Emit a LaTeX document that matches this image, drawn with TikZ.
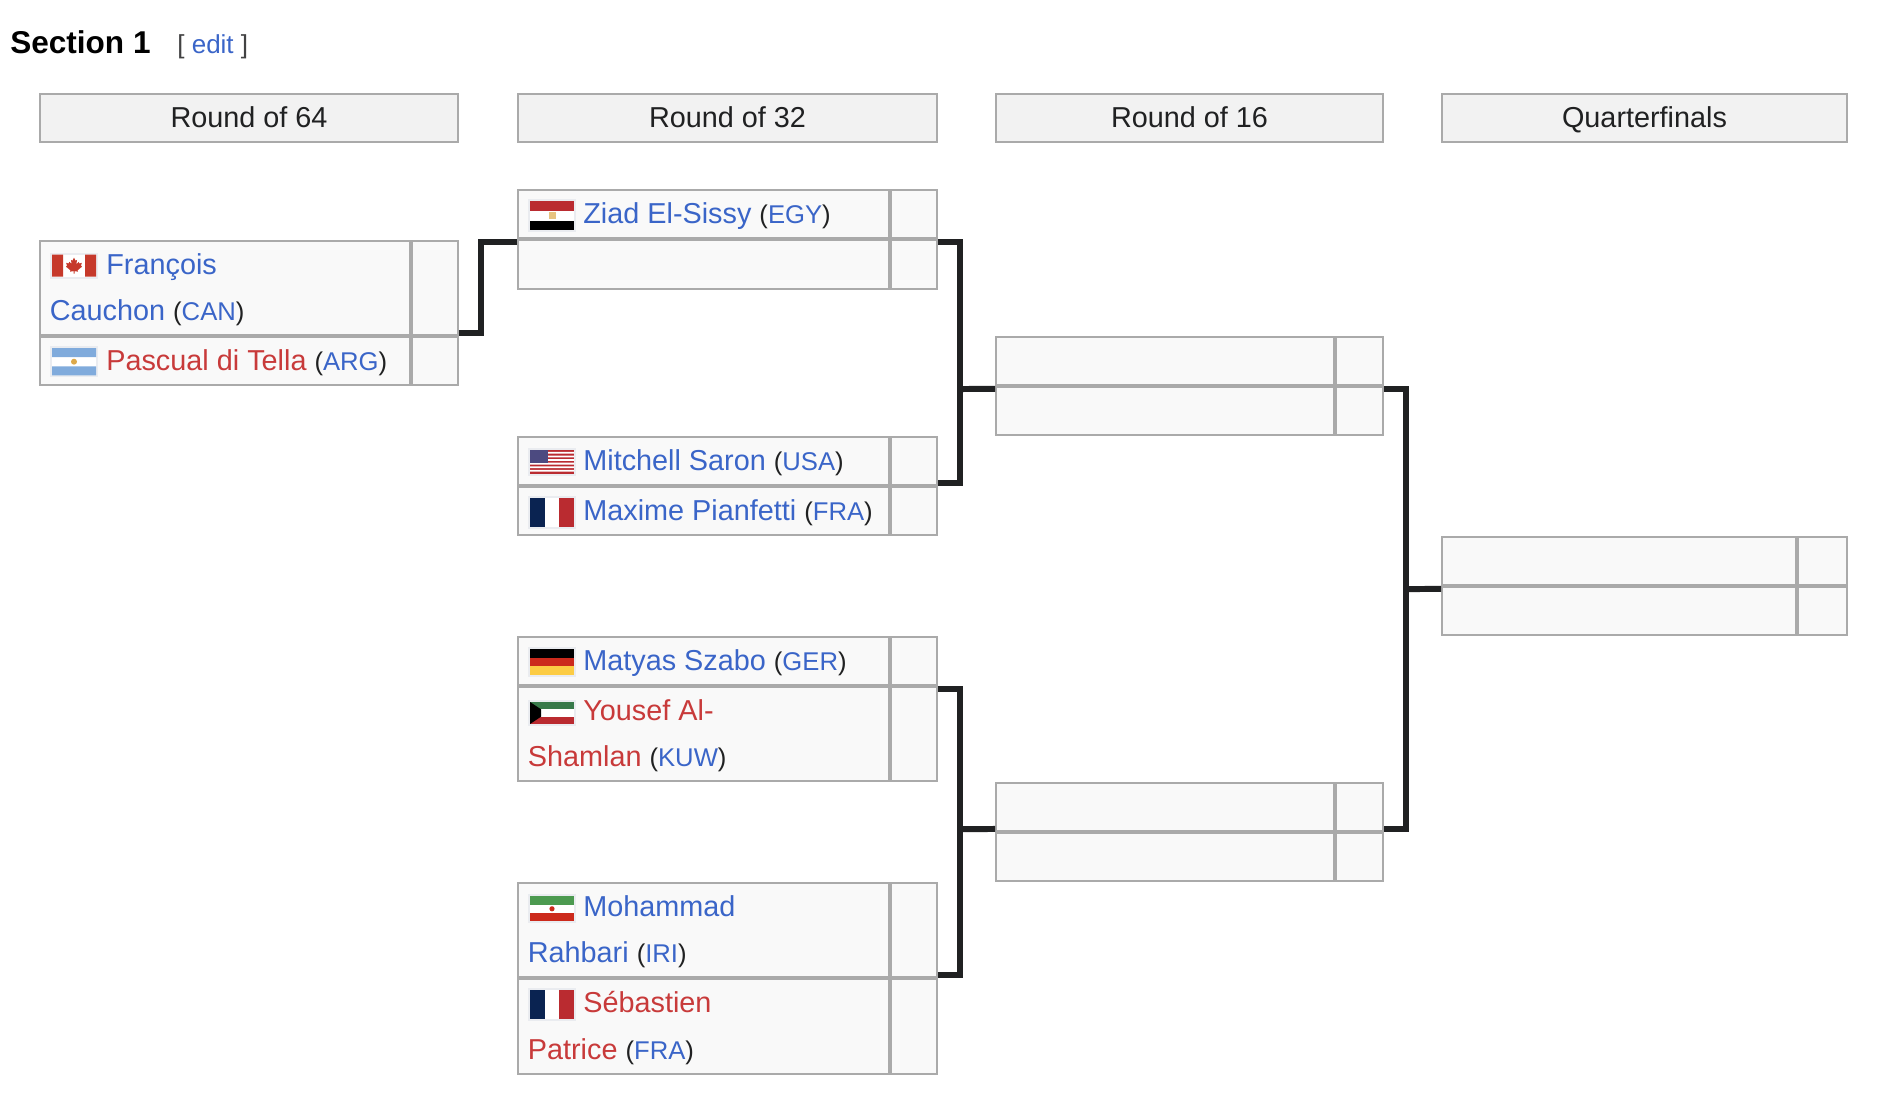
\documentclass[tikz,border=0pt]{standalone}
\usepackage{xcolor}
\usepackage{fontspec}
\setmainfont{Liberation Sans}
\usepackage{tikz}
\usetikzlibrary{positioning}

\definecolor{ink}{HTML}{202122}
\definecolor{lnk}{HTML}{3A65C8}
\definecolor{redlnk}{HTML}{C83A3A}
\definecolor{rule}{HTML}{AAAAAA}
\definecolor{cellbg}{HTML}{F9F9F9}
\definecolor{headbg}{HTML}{F2F2F2}
\definecolor{frame}{HTML}{EAECF0}
\definecolor{flagred}{HTML}{BA2B30}
\definecolor{flagnavy}{HTML}{0A2351}
\definecolor{HTMLcan}{HTML}{C6392B}
\definecolor{HTMLarg}{HTML}{80ABDC}
\definecolor{HTMLsun}{HTML}{DDA94A}
\definecolor{HTMLcanton}{HTML}{4C4A80}
\definecolor{HTMLger}{HTML}{CC2A1C}
\definecolor{HTMLgold}{HTML}{FCCC44}
\definecolor{HTMLkgreen}{HTML}{37794A}
\definecolor{HTMLigreen}{HTML}{4C9A50}

\newcommand{\blue}[1]{\textcolor{lnk}{#1}}
\newcommand{\redl}[1]{\textcolor{redlnk}{#1}}
\newcommand{\ioc}[1]{{\fontsize{14.6}{18}\selectfont(\blue{#1})}}

% flags, drawn around the centre of their frame node
\newcommand{\flagCAN}[1]{\begin{scope}[shift={(#1.center)}]
  \fill[white] (-22,-11) rectangle (22,11);
  \fill[HTMLcan] (-22,-11) rectangle (-11,11) (11,-11) rectangle (22,11);
  \fill[HTMLcan] (0,-8) -- (1.6,-5) -- (3,-5.8) -- (2.4,-1.6) -- (4.6,-3.8) -- (5.4,-2.2) -- (7.8,-2.8)
    -- (7,0) -- (8,1) -- (3.6,4.6) -- (4,6) -- (.5,5.4) -- (.5,8) -- (-.5,8) -- (-.5,5.4) -- (-4,6)
    -- (-3.6,4.6) -- (-8,1) -- (-7,0) -- (-7.8,-2.8) -- (-5.4,-2.2) -- (-4.6,-3.8) -- (-2.4,-1.6)
    -- (-3,-5.8) -- (-1.6,-5) -- cycle;
\end{scope}}
\newcommand{\flagARG}[1]{\begin{scope}[shift={(#1.center)}]
  \fill[white] (-22,-13.7) rectangle (22,13.7);
  \fill[HTMLarg] (-22,-13.7) rectangle (22,-4.6) (-22,4.6) rectangle (22,13.7);
  \fill[HTMLsun] (0,0) circle[radius=3];
\end{scope}}
\newcommand{\flagEGY}[1]{\begin{scope}[shift={(#1.center)}]
  \fill[flagred] (-22,-14.5) rectangle (22,-4.8);
  \fill[white] (-22,-4.8) rectangle (22,4.8);
  \fill[black] (-22,4.8) rectangle (22,14.5);
  \fill[HTMLsun!70] (-3.5,-3.5) rectangle (3.5,3.5);
\end{scope}}
\newcommand{\flagUSA}[1]{\begin{scope}[shift={(#1.center)}]
  \fill[flagred] (-22,-11.7) rectangle (22,11.7);
  \fill[white] (-22,-9.9) rectangle (22,-8.1) (-22,-6.3) rectangle (22,-4.5)
    (-22,-2.7) rectangle (22,-.9) (-22,.9) rectangle (22,2.7)
    (-22,4.5) rectangle (22,6.3) (-22,8.1) rectangle (22,9.9);
  \fill[HTMLcanton] (-22,-11.7) rectangle (-4.4,.9);
\end{scope}}
\newcommand{\flagFRA}[1]{\begin{scope}[shift={(#1.center)}]
  \fill[flagnavy] (-22,-14.5) rectangle (-7.3,14.5);
  \fill[white] (-7.3,-14.5) rectangle (7.3,14.5);
  \fill[flagred] (7.3,-14.5) rectangle (22,14.5);
\end{scope}}
\newcommand{\flagGER}[1]{\begin{scope}[shift={(#1.center)}]
  \fill[black] (-22,-12.7) rectangle (22,-4.2);
  \fill[HTMLger] (-22,-4.2) rectangle (22,4.2);
  \fill[HTMLgold] (-22,4.2) rectangle (22,12.7);
\end{scope}}
\newcommand{\flagKUW}[1]{\begin{scope}[shift={(#1.center)}]
  \fill[HTMLkgreen] (-22,-11) rectangle (22,-3.7);
  \fill[white] (-22,-3.7) rectangle (22,3.7);
  \fill[flagred] (-22,3.7) rectangle (22,11);
  \fill[black] (-22,-11) -- (-11,-3.7) -- (-11,3.7) -- (-22,11) -- cycle;
\end{scope}}
\newcommand{\flagIRI}[1]{\begin{scope}[shift={(#1.center)}]
  \fill[HTMLigreen] (-22,-12.5) rectangle (22,-4.2);
  \fill[white] (-22,-4.2) rectangle (22,4.2);
  \fill[HTMLger] (-22,4.2) rectangle (22,12.5);
  \fill[HTMLger] (0,0) circle[radius=2.6];
\end{scope}}

\begin{document}
\begin{tikzpicture}[x=0.02cm, y=-0.02cm,
  cell/.style={draw=rule, line width=0.04cm, fill=cellbg, inner sep=0pt, outer sep=0pt},
  head/.style={draw=rule, line width=0.04cm, fill=headbg, inner sep=0pt, outer sep=0pt, text=ink,
               minimum height=0.96cm, text height=10.5pt, text depth=0pt,
               font=\fontsize{16.4}{20}\selectfont},
  w64/.style={cell, minimum width=7.4cm},
  w32/.style={cell, minimum width=7.42cm},
  w16/.style={cell, minimum width=6.76cm},
  wqf/.style={cell, minimum width=7.08cm},
  scr/.style={cell, minimum width=0.92cm},
  short/.style={minimum height=0.96cm},
  tall/.style={minimum height=1.88cm},
  fl/.style={draw=frame, line width=0.04cm, fill=cellbg, inner sep=0pt, minimum width=0.92cm},
  pl/.style={anchor=base west, inner sep=0pt, text=ink, font=\fontsize{16.4}{20}\selectfont},
  conn/.style={draw=ink, line width=0.12cm},
]
\useasboundingbox (0,0) rectangle (1896,1108);

% Title
\node[anchor=base west, inner sep=0pt, font=\bfseries\fontsize{17.95}{20}\selectfont] at (10,53.5) (title) {Section 1};
\node[anchor=base west, inner sep=0pt, text=ink!85, font=\fontsize{14.8}{18}\selectfont] at (177,53.5) (edit) {[ \blue{edit} ]};

% Column heads
\node[head, minimum width=8.36cm] at (249,118)    (h64) {Round of 64};
\node[head, minimum width=8.38cm] at (727.5,118)  (h32) {Round of 32};
\node[head, minimum width=7.74cm] at (1189.5,118) (h16) {Round of 16};
\node[head, minimum width=8.10cm] at (1644.5,118) (hqf) {Quarterfinals};

% Round of 64
\node[w64, tall, anchor=north west] at (40,241) (ncan) {};
\node[scr, tall, right=0.04cm of ncan] (scan) {};
\node[w64, short, below=0.04cm of ncan] (narg) {};
\node[scr, short, right=0.04cm of narg] (sarg) {};

% Round of 32
\node[w32, short, anchor=north west] at (518,190) (negy) {};
\node[scr, short, right=0.04cm of negy] (segy) {};
\node[w32, short, minimum height=0.98cm, below=0.04cm of negy] (nbye) {};
\node[scr, short, minimum height=0.98cm, right=0.04cm of nbye] (sbye) {};
\node[w32, short, anchor=north west] at (518,437) (nusa) {};
\node[scr, short, right=0.04cm of nusa] (susa) {};
\node[w32, short, below=0.04cm of nusa] (nfra) {};
\node[scr, short, right=0.04cm of nfra] (sfra) {};
\node[w32, short, anchor=north west] at (518,637) (nger) {};
\node[scr, short, right=0.04cm of nger] (sger) {};
\node[w32, tall, below=0.04cm of nger] (nkuw) {};
\node[scr, tall, right=0.04cm of nkuw] (skuw) {};
\node[w32, tall, anchor=north west] at (518,883) (niri) {};
\node[scr, tall, right=0.04cm of niri] (siri) {};
\node[w32, tall, minimum height=1.9cm, below=0.04cm of niri] (nfrb) {};
\node[scr, tall, minimum height=1.9cm, right=0.04cm of nfrb] (sfrb) {};

% Round of 16
\node[w16, short, anchor=north west] at (996,337) (nra) {};
\node[scr, short, minimum width=0.94cm, right=0.04cm of nra] (sra) {};
\node[w16, short, below=0.04cm of nra] (nrb) {};
\node[scr, short, minimum width=0.94cm, right=0.04cm of nrb] (srb) {};
\node[w16, short, anchor=north west] at (996,783) (nrc) {};
\node[scr, short, minimum width=0.94cm, right=0.04cm of nrc] (src) {};
\node[w16, short, below=0.04cm of nrc] (nrd) {};
\node[scr, short, minimum width=0.94cm, right=0.04cm of nrd] (srd) {};

% Quarterfinals
\node[wqf, short, anchor=north west] at (1442,537) (nqa) {};
\node[scr, short, minimum width=0.98cm, right=0.04cm of nqa] (sqa) {};
\node[wqf, short, below=0.04cm of nqa] (nqb) {};
\node[scr, short, minimum width=0.98cm, right=0.04cm of nqb] (sqb) {};

% Flags
\node[fl, minimum height=0.48cm] at (74,265.7)  (fcan) {}; \flagCAN{fcan}
\node[fl, minimum height=0.59cm] at (74,361.7)  (farg) {}; \flagARG{farg}
\node[fl, minimum height=0.62cm] at (552,215.8) (fegy) {}; \flagEGY{fegy}
\node[fl, minimum height=0.51cm] at (552,461.8) (fusa) {}; \flagUSA{fusa}
\node[fl, minimum height=0.62cm] at (552,512)   (ffra) {}; \flagFRA{ffra}
\node[fl, minimum height=0.55cm] at (552,661.8) (fger) {}; \flagGER{fger}
\node[fl, minimum height=0.48cm] at (552,713)   (fkuw) {}; \flagKUW{fkuw}
\node[fl, minimum height=0.54cm] at (552,908.8) (firi) {}; \flagIRI{firi}
\node[fl, minimum height=0.62cm] at (552,1004.8)(ffrb) {}; \flagFRA{ffrb}

% Players
\node[pl] at (106,275)    (tcan)  {\blue{François}};
\node[pl] at (49.5,320.7) (tcanb) {\blue{Cauchon} \ioc{CAN}};
\node[pl] at (106,370)    (targ)  {\redl{Pascual di Tella} \ioc{ARG}};
\node[pl] at (583,224)    (tegy)  {\blue{Ziad El-Sissy} \ioc{EGY}};
\node[pl] at (583,470)    (tusa)  {\blue{Mitchell Saron} \ioc{USA}};
\node[pl] at (583,520)    (tfra)  {\blue{Maxime Pianfetti} \ioc{FRA}};
\node[pl] at (583,670)    (tger)  {\blue{Matyas Szabo} \ioc{GER}};
\node[pl] at (583,720)    (tkuw)  {\redl{Yousef Al-}};
\node[pl] at (527.5,766.3)(tkuwb) {\redl{Shamlan} \ioc{KUW}};
\node[pl] at (583,916)    (tiri)  {\blue{Mohammad}};
\node[pl] at (527.5,962.3)(tirib) {\blue{Rahbari} \ioc{IRI}};
\node[pl] at (583,1012.3) (tfrb)  {\redl{Sébastien}};
\node[pl] at (527.5,1059) (tfrbb) {\redl{Patrice} \ioc{FRA}};

% Connectors
\coordinate (j64) at (481,288);
\coordinate (j1) at (960,389);
\coordinate (j2) at (960,829);
\coordinate (j3) at (1406,589);
\draw[conn] ([shift={(1,-2)}]scan.south east) -| (j64) |- ([shift={(-1,2)}]nbye.north west);
\draw[conn] ([shift={(1,2)}]sbye.north east) -| (j1) |- ([shift={(1,-2)}]susa.south east);
\draw[conn] (j1) -- ([shift={(-1,2)}]nrb.north west);
\draw[conn] ([shift={(1,2)}]skuw.north east) -| (j2) |- ([shift={(1,-2)}]siri.south east);
\draw[conn] (j2) -- ([shift={(-1,-2)}]nrc.south west);
\draw[conn] ([shift={(1,2)}]srb.north east) -| (j3) |- ([shift={(1,-2)}]src.south east);
\draw[conn] (j3) -- ([shift={(-1,2)}]nqb.north west);
\end{tikzpicture}
\end{document}
